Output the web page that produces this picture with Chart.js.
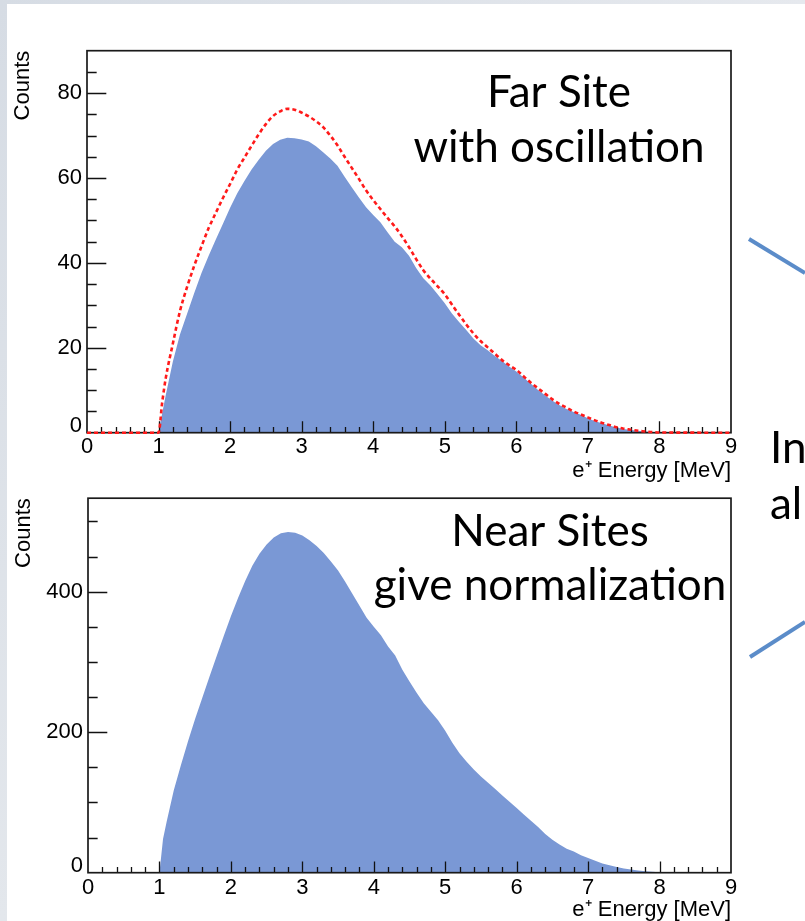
<!DOCTYPE html>
<html>
<head>
<meta charset="utf-8">
<script src="https://cdn.jsdelivr.net/npm/chart.js@4.4.1/dist/chart.umd.min.js"></script>
<style>
  html, body { margin: 0; padding: 0; background: #fff; width: 805px; height: 921px; overflow: hidden; }
  body { position: relative; }
  #edgeL { position: absolute; left: 0; top: 0; width: 7px; height: 921px; background: linear-gradient(#d6dce4, #e3e7ec); }
  #edgeT { position: absolute; left: 0; top: 0; width: 805px; height: 4px; background: linear-gradient(90deg, #d6dce4, #e6e9ee); }
  canvas { position: absolute; left: 0; }
  #far { top: 0; z-index: 2; }
  #near { top: 480px; z-index: 1; }
</style>
</head>
<body>
<div id="edgeL"></div>
<div id="edgeT"></div>
<canvas id="far" width="805" height="921"></canvas>
<canvas id="near" width="805" height="441"></canvas>
<script>
// Positron energy bins [MeV]
const energyMeV = [
  0, 1.0, 1.05, 1.1, 1.2, 1.3, 1.4, 1.5, 1.6, 1.7,
  1.8, 1.9, 2.0, 2.1, 2.2, 2.3, 2.4, 2.5, 2.6, 2.7,
  2.8, 2.9, 3.0, 3.1, 3.2, 3.3, 3.4, 3.5, 3.6, 3.7,
  3.8, 3.9, 4.0, 4.1, 4.2, 4.3, 4.4, 4.5, 4.6, 4.7,
  4.8, 4.9, 5.0, 5.1, 5.2, 5.3, 5.4, 5.5, 5.6, 5.7,
  5.8, 5.9, 6.0, 6.1, 6.2, 6.3, 6.4, 6.5, 6.6, 6.7,
  6.8, 6.9, 7.0, 7.1, 7.2, 7.3, 7.4, 7.5, 7.6, 7.7,
  7.8, 7.9, 8.0, 9.0
];

// Far site, with oscillation (filled)
const farOscillated = [
  0, 0, 4.5, 8.8, 16.8, 23.2, 28.1, 33.0, 37.6, 41.7,
  45.5, 49.2, 53.0, 56.4, 59.3, 62.0, 64.3, 66.4, 68.0, 69.0,
  69.5, 69.4, 69.1, 68.6, 67.5, 66.1, 64.6, 62.9, 60.3, 57.8,
  55.4, 53.1, 51.3, 49.6, 47.2, 45.0, 43.7, 41.7, 38.8, 36.4,
  34.7, 32.6, 30.5, 28.1, 26.1, 24.2, 22.2, 20.6, 19.4, 18.1,
  16.9, 15.6, 14.4, 13.0, 11.6, 10.1, 8.8, 7.6, 6.5, 5.6,
  4.9, 4.2, 3.4, 2.7, 2.2, 1.7, 1.2, 0.9, 0.65, 0.45,
  0.3, 0.15, 0.05, 0
];

// Far site, no oscillation (dashed)
const farNoOscillation = [
  0, 0, 7.0, 12.8, 21.0, 28.7, 34.4, 39.4, 43.9, 48.2,
  51.8, 55.3, 58.6, 62.0, 64.8, 67.6, 70.3, 72.7, 74.6, 75.7,
  76.3, 76.1, 75.4, 74.5, 73.4, 72.0, 70.0, 67.7, 65.0, 62.4,
  59.8, 57.1, 54.8, 52.7, 50.6, 48.6, 46.3, 43.7, 40.9, 38.3,
  36.3, 34.5, 32.6, 30.2, 27.8, 25.5, 23.4, 21.6, 20.1, 18.6,
  17.1, 15.9, 14.8, 13.3, 11.8, 10.5, 9.2, 7.9, 6.8, 5.9,
  5.0, 4.3, 3.6, 2.9, 2.3, 1.8, 1.3, 0.95, 0.7, 0.45,
  0.3, 0.15, 0.05, 0
];

// Near sites (filled)
const nearCounts = [
  0, 0, 48, 72, 117, 153, 187, 219, 249, 279,
  308, 337, 365, 391, 415, 437, 454, 467, 477, 483,
  485, 484, 480, 473, 465, 455, 443, 430, 414, 397,
  380, 363, 350, 338, 322, 309, 289, 272, 256, 241,
  229, 217, 202, 185, 170, 158, 147, 137, 128, 119,
  110, 101, 92, 83, 74, 65, 55, 47, 40, 34,
  30, 25, 21, 17, 13, 10.5, 8, 6, 4.5, 3,
  2, 1.2, 0.5, 0
];

// Axis ticks
const xTickValues = [0, 1, 2, 3, 4, 5, 6, 7, 8, 9];
const farYTicks = [0, 20, 40, 60, 80];
const nearYTicks = [0, 200, 400];

const FILL = '#7a98d5';
const FAMILY = 'Liberation Sans, Arial, sans-serif';
const AXIS_FONT = { family: FAMILY, size: 22, lineHeight: 1.0 };
const TICK_FONT = { family: FAMILY, size: 22 };
// the zero label sits a little above the axis corner
const Y_TICK_FONT = c => (c.tick && c.tick.value === 0) ? { family: FAMILY, size: 22, lineHeight: 0.6 } : TICK_FONT;

function points(ys) {
  return energyMeV.map((e, i) => ({ x: e, y: ys[i] }));
}

// Frame box with inward major/minor ticks, drawn right after the filled histogram
const frameTicks = {
  id: 'frameTicks',
  afterDatasetDraw(chart, args, opts) {
    if (args.index !== opts.after) return;
    const { ctx, chartArea: a, scales: { x, y } } = chart;
    ctx.save();
    ctx.strokeStyle = '#111';
    ctx.lineWidth = 1.3;
    ctx.beginPath();
    const yMaj = a.width * 0.03, xMaj = a.height * 0.03;
    const nY = Math.round(y.max / opts.yMinor);
    for (let i = 1; i <= nY; i++) {
      const v = i * opts.yMinor;
      if (v >= y.max - 1e-9) break;
      const major = Math.abs(v / opts.yMajor - Math.round(v / opts.yMajor)) < 1e-6;
      const py = Math.round(y.getPixelForValue(v)) + 0.5;
      ctx.moveTo(a.left, py);
      ctx.lineTo(a.left + (major ? yMaj : yMaj / 2), py);
    }
    const nX = Math.round((x.max - x.min) / opts.xMinor);
    for (let i = 1; i < nX; i++) {
      const v = x.min + i * opts.xMinor;
      const major = Math.abs(v - Math.round(v)) < 1e-6;
      const px = Math.round(x.getPixelForValue(v)) + 0.5;
      ctx.moveTo(px, a.bottom);
      ctx.lineTo(px, a.bottom - (major ? xMaj : xMaj / 2));
    }
    ctx.stroke();
    ctx.strokeStyle = '#1a1a1a';
    ctx.lineWidth = 1.7;
    ctx.strokeRect(a.left, a.top, a.width, a.height);
    ctx.restore();
  }
};

// Slide captions and connector strokes
const captions = {
  id: 'captions',
  afterDraw(chart, args, opts) {
    const { ctx } = chart;
    ctx.save();
    ctx.fillStyle = '#000';
    ctx.font = '44px Lato, "Open Sans", sans-serif';
    ctx.textBaseline = 'alphabetic';
    for (const t of opts.texts) {
      ctx.textAlign = t.align;
      ctx.fillText(t.text, t.x, t.y);
    }
    ctx.strokeStyle = '#5b8cc9';
    ctx.lineWidth = 4;
    for (const l of opts.lines) {
      ctx.beginPath();
      ctx.moveTo(l[0], l[1]);
      ctx.lineTo(l[2], l[3]);
      ctx.stroke();
    }
    ctx.restore();
  }
};

function makeOptions(cfg) {
  return {
    responsive: false,
    animation: false,
    devicePixelRatio: 1,
    events: [],
    layout: { padding: cfg.padding },
    plugins: {
      legend: { display: false },
      tooltip: { enabled: false },
      frameTicks: { yMajor: cfg.yMajor, yMinor: cfg.yMinor, xMinor: 0.2, after: cfg.frameAfter },
      captions: { texts: cfg.texts, lines: cfg.lines }
    },
    scales: {
      x: {
        type: 'linear', min: 0, max: 9,
        afterBuildTicks: s => { s.ticks = xTickValues.map(v => ({ value: v })); },
        afterFit: s => { s.height = cfg.xHeight; },
        grid: { display: false, drawTicks: false },
        border: { display: false },
        ticks: { font: TICK_FONT, color: '#000', padding: cfg.xPad, maxRotation: 0, autoSkip: false },
        title: { display: true, text: 'e\u207A Energy [MeV]', align: 'end', color: '#000', font: AXIS_FONT, padding: { top: 0, bottom: cfg.xTitlePad } }
      },
      y: {
        type: 'linear', min: 0, max: cfg.yMax,
        afterBuildTicks: s => { s.ticks = cfg.yTicks.map(v => ({ value: v })); },
        afterFit: s => { s.width = cfg.yWidth; },
        grid: { display: false, drawTicks: false },
        border: { display: false },
        ticks: {
          font: Y_TICK_FONT, color: '#000', padding: 5, autoSkip: false,
          callback: v => v === 0 ? ['0', ''] : String(v)
        },
        title: { display: true, text: 'Counts', align: 'end', color: '#000', font: AXIS_FONT, padding: { top: cfg.yTitlePad, bottom: 0 } }
      }
    }
  };
}

new Chart(document.getElementById('far'), {
  type: 'line',
  data: {
    datasets: [
      {
        data: points(farNoOscillation), order: 0,
        borderColor: '#ff1a1a', borderWidth: 2.6, borderDash: [4, 3],
        fill: false, pointRadius: 0, cubicInterpolationMode: 'monotone', clip: 4
      },
      {
        data: points(farOscillated), order: 1,
        borderWidth: 0, backgroundColor: FILL, fill: 'origin', pointRadius: 0, tension: 0
      }
    ]
  },
  options: makeOptions({
    padding: { left: 0, right: 74, top: 50.7, bottom: 431 },
    xHeight: 57.3, yWidth: 87, yMax: 90, yTicks: farYTicks, yMajor: 20, yMinor: 5,
    xPad: 1, xTitlePad: 8.5, yTitlePad: 11.5, frameAfter: 1,
    texts: [
      { text: 'Far Site', x: 559, y: 107, align: 'center' },
      { text: 'with oscillation', x: 559, y: 162, align: 'center' },
      { text: 'In', x: 770, y: 463, align: 'left' },
      { text: 'al', x: 770, y: 519, align: 'left' }
    ],
    lines: [[749, 239, 805, 273], [750, 657, 805, 622]]
  }),
  plugins: [frameTicks, captions]
});

new Chart(document.getElementById('near'), {
  type: 'line',
  data: {
    datasets: [
      {
        data: points(nearCounts),
        borderWidth: 0, backgroundColor: FILL, fill: 'origin', pointRadius: 0, tension: 0
      }
    ]
  },
  options: makeOptions({
    padding: { left: 0, right: 74, top: 12.7, bottom: 0 },
    xHeight: 48.3, yWidth: 88, yMax: 533, yTicks: nearYTicks, yMajor: 200, yMinor: 50,
    xPad: 2, xTitlePad: 0, yTitlePad: 13, frameAfter: 0,
    texts: [
      { text: 'Near Sites', x: 550, y: 66, align: 'center' },
      { text: 'give normalization', x: 550, y: 120, align: 'center' }
    ],
    lines: []
  }),
  plugins: [frameTicks, captions]
});
</script>
</body>
</html>
